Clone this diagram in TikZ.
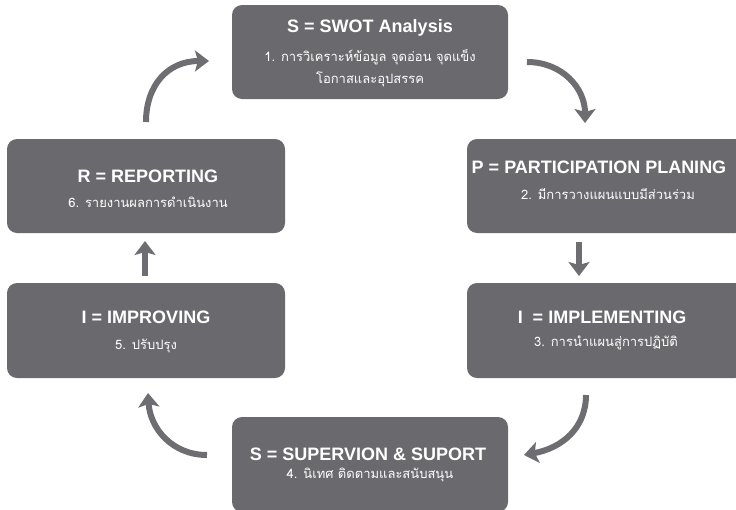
\documentclass[tikz,border=0pt]{standalone}
\usepackage{fontspec}
\setmainfont{Liberation Sans}
\newfontfamily\thaifont[Script=Thai]{Loma}
\usetikzlibrary{arrows.meta}
\definecolor{boxgrey}{RGB}{106,106,110}
\definecolor{arrgrey}{RGB}{110,110,114}
\tikzset{
  stagebox/.style={fill=boxgrey, draw=none, rounded corners=10pt},
  headtxt/.style={anchor=base, text=white, font=\fontsize{18}{20}\selectfont\bfseries, inner sep=0pt},
  thaitxt/.style={anchor=base, text=white, font=\fontsize{13}{15}\selectfont\thaifont, inner sep=0pt},
  flow/.style={draw=arrgrey, line width=6pt, -{Stealth[width=21pt,length=14pt,inset=3pt,fill=arrgrey]}},
}
\begin{document}
\begin{tikzpicture}[x=1pt,y=-1pt]
\useasboundingbox (0,0) rectangle (736,509);
\clip (0,0) rectangle (736,509);
% boxes
\path[stagebox] (232,5) rectangle (508,99);
\path[stagebox] (467,139) rectangle (745,233);
\path[stagebox] (467,283) rectangle (745,378);
\path[stagebox] (232,417) rectangle (508,512);
\path[stagebox] (7,283) rectangle (285,378);
\path[stagebox] (7,139) rectangle (285,233);
% texts
\node[headtxt] (sH) at (370,32) {S = SWOT Analysis};
\node[thaitxt] (s1) at (370,61) {1. การวิเคราะห์ข้อมูล จุดอ่อน จุดแข็ง};
\node[thaitxt] (s2) at (370,83) {โอกาสและอุปสรรค};
\node[headtxt] (pH) at (599,173) {P = PARTICIPATION PLANING};
\node[thaitxt] (p1) at (608,199) {2. มีการวางแผนแบบมีส่วนร่วม};
\node[headtxt] (iH) at (602,323) {I\ \ = IMPLEMENTING};
\node[thaitxt] (i1) at (606,346) {3. การนำแผนสู่การปฏิบัติ};
\node[headtxt] (bH) at (368,460) {S = SUPERVION \& SUPORT};
\node[thaitxt] (b1) at (370,478) {4. นิเทศ ติดตามและสนับสนุน};
\node[headtxt] (mH) at (146,323) {I = IMPROVING};
\node[thaitxt] (m1) at (146,349) {5. ปรับปรุง};
\node[headtxt] (rH) at (148,182) {R = REPORTING};
\node[thaitxt] (r1) at (148,207) {6. รายงานผลการดำเนินงาน};
% connector ends
\coordinate (a1s) at (146,122);
\coordinate (a1e) at (209,61);
\coordinate (a2s) at (527,62);
\coordinate (a2e) at (585,123);
\coordinate (a3s) at (579,242);
\coordinate (a3e) at (579,276);
\coordinate (a4s) at (586,395);
\coordinate (a4e) at (524,455);
\coordinate (a5s) at (207,455);
\coordinate (a5e) at (148,393);
\coordinate (a6s) at (145,276);
\coordinate (a6e) at (145,241);
% arrows
\draw[flow] (a1s) .. controls (146,85) and (168,61) .. (a1e);
\draw[flow] (a2s) .. controls (562,62) and (585,88) .. (a2e);
\draw[flow] (a3s) -- (a3e);
\draw[flow] (a4s) .. controls (586,428) and (562,448) .. (a4e);
\draw[flow] (a5s) .. controls (172,455) and (150,428) .. (a5e);
\draw[flow] (a6s) -- (a6e);
\end{tikzpicture}
\end{document}
